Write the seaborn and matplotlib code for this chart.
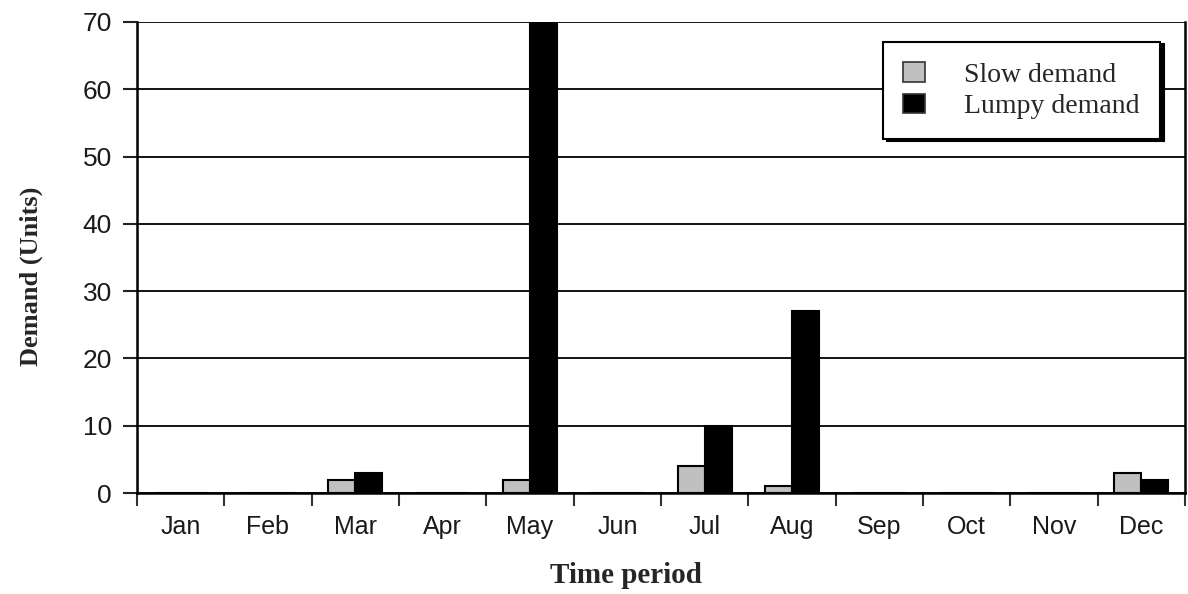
import numpy as np
import pandas as pd
import seaborn as sns
import matplotlib.pyplot as plt
import matplotlib.ticker as plticker

sns.set_style("white")

months = ["Jan", "Feb", "Mar", "Apr", "May", "Jun",
          "Jul", "Aug", "Sep", "Oct", "Nov", "Dec"]
slow_demand = [0, 0, 2, 0, 2, 0, 4, 1, 0, 0, 0, 3]
lumpy_demand = [0, 0, 3, 0, 70, 0, 10, 27, 0, 0, 0, 2]
series_names = ["Slow demand", "Lumpy demand"]

df = pd.DataFrame({
    "month": months * 2,
    "demand": slow_demand + lumpy_demand,
    "series": [series_names[0]] * 12 + [series_names[1]] * 12,
})

fig = plt.figure(figsize=(11.88, 5.94), dpi=100)
ax = fig.add_axes([0.1153, 0.17, 0.8822, 0.793])

sns.barplot(
    data=df, x="month", y="demand", hue="series", order=months,
    hue_order=series_names,
    palette={"Slow demand": "#c0c0c0", "Lumpy demand": "black"},
    edgecolor="black", linewidth=1.5, width=0.62, ax=ax,
)

ax.set_ylim(0, 70)
ax.set_xlim(-0.5, 11.5)
ax.yaxis.set_major_locator(plticker.MultipleLocator(base=10))
ax.grid(axis="y", color="black", linewidth=1.3)
ax.set_axisbelow(True)

# ticks between months, no ticks under the labels
ax.xaxis.set_minor_locator(plticker.FixedLocator(np.arange(-0.5, 12, 1)))
ax.tick_params(axis="x", which="major", length=0, pad=16,
               labelsize=18, labelcolor="#1a1a1a")
ax.tick_params(axis="x", which="minor", length=9, width=1.5,
               direction="out", color="#333333", bottom=True)
ax.tick_params(axis="y", which="major", length=10, width=1.5,
               direction="out", color="#222222", left=True,
               labelsize=19, labelcolor="#1a1a1a", pad=8)
for lab in ax.get_xticklabels() + ax.get_yticklabels():
    lab.set_fontfamily("Liberation Sans")

for side in ["left", "right", "bottom", "top"]:
    ax.spines[side].set_color("black")
    ax.spines[side].set_linewidth(1.8)
ax.spines["top"].set_visible(False)

ax.set_xlabel("Time period", fontfamily="Liberation Serif",
              fontweight="bold", fontsize=21)
ax.set_ylabel("Demand (Units)", fontfamily="Liberation Serif",
              fontweight="bold", fontsize=19)
ax.xaxis.set_label_coords(0.467, -0.146)
ax.yaxis.set_label_coords(-0.09, 0.459)

leg = ax.legend(
    loc="upper right", bbox_to_anchor=(0.976, 0.957), borderaxespad=0,
    prop={"family": "Liberation Serif", "size": 20},
    frameon=True, fancybox=False, edgecolor="black",
    shadow={"color": "black", "alpha": 1.0, "ox": 3, "oy": -1},
    handlelength=0.8, handleheight=0.7, handletextpad=1.4,
    borderpad=0.72, labelspacing=0.22,
)
leg.get_frame().set_linewidth(1.5)
for h in leg.legend_handles:
    h.set_edgecolor("#333333")
    h.set_linewidth(1.2)

fig.savefig("out.png", dpi=100)
